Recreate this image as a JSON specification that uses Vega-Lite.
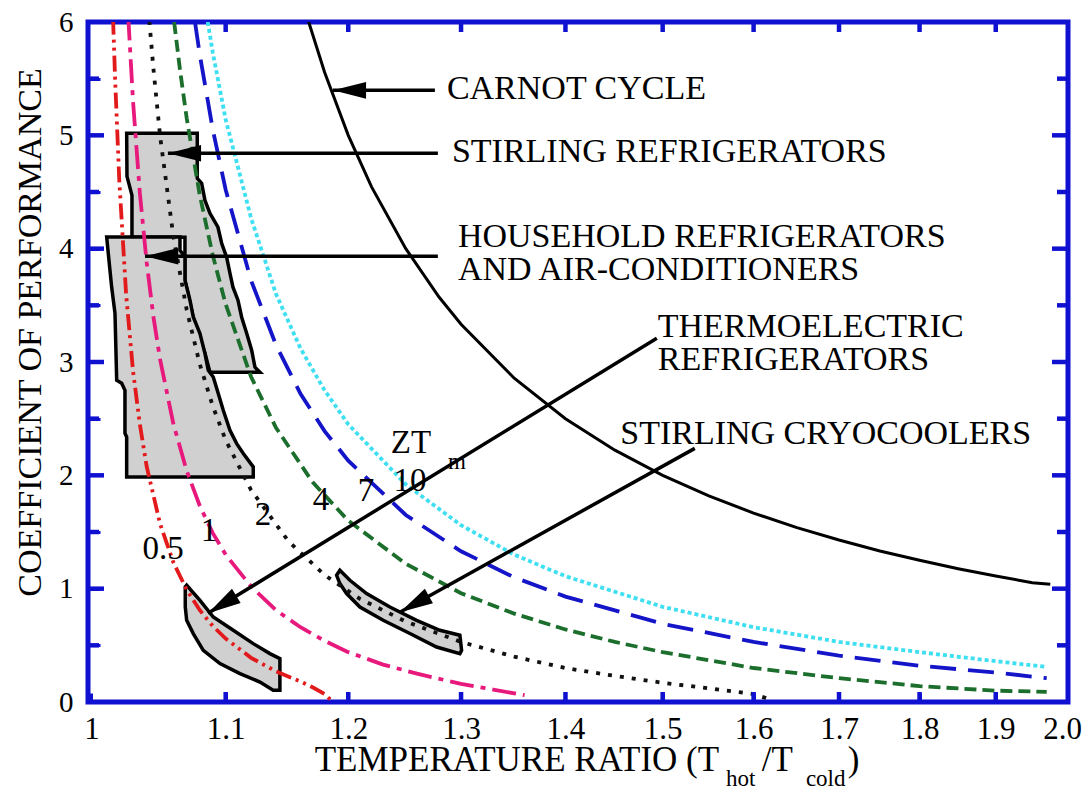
{
  "$schema": "https://vega.github.io/schema/vega-lite/v6.json",
  "width": 980,
  "height": 680,
  "autosize": {"type": "none"},
  "padding": {"left": 88, "top": 22, "right": 17, "bottom": 89},
  "background": "white",
  "config": {
    "font": "Liberation Serif",
    "view": {"stroke": "#1010d0", "strokeWidth": 5},
    "axis": {"labelFont": "Liberation Serif", "titleFont": "Liberation Serif"},
    "style": {"guide-label": {"font": "Liberation Serif"}, "guide-title": {"font": "Liberation Serif"}},
    "text": {"font": "Liberation Serif", "color": "black"}
  },
  "datasets": {
    "curves": [
      {"s": "Carnot", "r": 1.165, "c": 6.06}, {"s": "Carnot", "r": 1.18, "c": 5.556}, {"s": "Carnot", "r": 1.2, "c": 5.0}, {"s": "Carnot", "r": 1.22, "c": 4.545}, {"s": "Carnot", "r": 1.25, "c": 4.0}, {"s": "Carnot", "r": 1.28, "c": 3.571}, {"s": "Carnot", "r": 1.3, "c": 3.333}, {"s": "Carnot", "r": 1.35, "c": 2.857}, {"s": "Carnot", "r": 1.4, "c": 2.5}, {"s": "Carnot", "r": 1.45, "c": 2.222}, {"s": "Carnot", "r": 1.5, "c": 2.0}, {"s": "Carnot", "r": 1.55, "c": 1.818}, {"s": "Carnot", "r": 1.6, "c": 1.667}, {"s": "Carnot", "r": 1.65, "c": 1.538}, {"s": "Carnot", "r": 1.7, "c": 1.429}, {"s": "Carnot", "r": 1.75, "c": 1.333}, {"s": "Carnot", "r": 1.8, "c": 1.25}, {"s": "Carnot", "r": 1.85, "c": 1.176}, {"s": "Carnot", "r": 1.9, "c": 1.111}, {"s": "Carnot", "r": 1.95, "c": 1.053}, {"s": "Carnot", "r": 1.975, "c": 1.04},
      {"s": "0.5", "r": 1.0155, "c": 6.03}, {"s": "0.5", "r": 1.017, "c": 5.49}, {"s": "0.5", "r": 1.02, "c": 4.6}, {"s": "0.5", "r": 1.025, "c": 3.59}, {"s": "0.5", "r": 1.03, "c": 2.92}, {"s": "0.5", "r": 1.035, "c": 2.45}, {"s": "0.5", "r": 1.04, "c": 2.08}, {"s": "0.5", "r": 1.05, "c": 1.57}, {"s": "0.5", "r": 1.06, "c": 1.23}, {"s": "0.5", "r": 1.07, "c": 0.99}, {"s": "0.5", "r": 1.08, "c": 0.81}, {"s": "0.5", "r": 1.09, "c": 0.67}, {"s": "0.5", "r": 1.1, "c": 0.56}, {"s": "0.5", "r": 1.12, "c": 0.39}, {"s": "0.5", "r": 1.14, "c": 0.27}, {"s": "0.5", "r": 1.16, "c": 0.18}, {"s": "0.5", "r": 1.17, "c": 0.13}, {"s": "0.5", "r": 1.18, "c": 0.07}, {"s": "0.5", "r": 1.187, "c": 0.0},
      {"s": "1", "r": 1.0265, "c": 6.05}, {"s": "1", "r": 1.03, "c": 5.3}, {"s": "1", "r": 1.035, "c": 4.49}, {"s": "1", "r": 1.04, "c": 3.88}, {"s": "1", "r": 1.045, "c": 3.4}, {"s": "1", "r": 1.05, "c": 3.02}, {"s": "1", "r": 1.06, "c": 2.45}, {"s": "1", "r": 1.07, "c": 2.04}, {"s": "1", "r": 1.08, "c": 1.73}, {"s": "1", "r": 1.09, "c": 1.49}, {"s": "1", "r": 1.1, "c": 1.3}, {"s": "1", "r": 1.12, "c": 1.02}, {"s": "1", "r": 1.14, "c": 0.81}, {"s": "1", "r": 1.16, "c": 0.66}, {"s": "1", "r": 1.18, "c": 0.54}, {"s": "1", "r": 1.2, "c": 0.44}, {"s": "1", "r": 1.23, "c": 0.33}, {"s": "1", "r": 1.26, "c": 0.25}, {"s": "1", "r": 1.3, "c": 0.16}, {"s": "1", "r": 1.33, "c": 0.11}, {"s": "1", "r": 1.36, "c": 0.06},
      {"s": "2", "r": 1.042, "c": 6.01}, {"s": "2", "r": 1.045, "c": 5.59}, {"s": "2", "r": 1.05, "c": 4.99}, {"s": "2", "r": 1.06, "c": 4.1}, {"s": "2", "r": 1.07, "c": 3.46}, {"s": "2", "r": 1.08, "c": 2.98}, {"s": "2", "r": 1.09, "c": 2.61}, {"s": "2", "r": 1.1, "c": 2.31}, {"s": "2", "r": 1.12, "c": 1.87}, {"s": "2", "r": 1.15, "c": 1.42}, {"s": "2", "r": 1.18, "c": 1.12}, {"s": "2", "r": 1.21, "c": 0.91}, {"s": "2", "r": 1.25, "c": 0.71}, {"s": "2", "r": 1.3, "c": 0.53}, {"s": "2", "r": 1.35, "c": 0.4}, {"s": "2", "r": 1.4, "c": 0.3}, {"s": "2", "r": 1.45, "c": 0.23}, {"s": "2", "r": 1.5, "c": 0.17}, {"s": "2", "r": 1.55, "c": 0.12}, {"s": "2", "r": 1.6, "c": 0.07}, {"s": "2", "r": 1.616, "c": 0.03},
      {"s": "4", "r": 1.0605, "c": 6.0}, {"s": "4", "r": 1.065, "c": 5.57}, {"s": "4", "r": 1.07, "c": 5.15}, {"s": "4", "r": 1.08, "c": 4.47}, {"s": "4", "r": 1.09, "c": 3.94}, {"s": "4", "r": 1.1, "c": 3.51}, {"s": "4", "r": 1.12, "c": 2.87}, {"s": "4", "r": 1.14, "c": 2.42}, {"s": "4", "r": 1.17, "c": 1.94}, {"s": "4", "r": 1.2, "c": 1.6}, {"s": "4", "r": 1.25, "c": 1.22}, {"s": "4", "r": 1.3, "c": 0.96}, {"s": "4", "r": 1.35, "c": 0.78}, {"s": "4", "r": 1.4, "c": 0.64}, {"s": "4", "r": 1.45, "c": 0.53}, {"s": "4", "r": 1.5, "c": 0.44}, {"s": "4", "r": 1.6, "c": 0.3}, {"s": "4", "r": 1.7, "c": 0.21}, {"s": "4", "r": 1.8, "c": 0.14}, {"s": "4", "r": 1.9, "c": 0.1}, {"s": "4", "r": 1.97, "c": 0.09},
      {"s": "7", "r": 1.0763, "c": 6.0}, {"s": "7", "r": 1.08, "c": 5.71}, {"s": "7", "r": 1.09, "c": 5.05}, {"s": "7", "r": 1.1, "c": 4.52}, {"s": "7", "r": 1.12, "c": 3.72}, {"s": "7", "r": 1.14, "c": 3.15}, {"s": "7", "r": 1.16, "c": 2.72}, {"s": "7", "r": 1.18, "c": 2.39}, {"s": "7", "r": 1.2, "c": 2.13}, {"s": "7", "r": 1.25, "c": 1.65}, {"s": "7", "r": 1.3, "c": 1.33}, {"s": "7", "r": 1.35, "c": 1.1}, {"s": "7", "r": 1.4, "c": 0.93}, {"s": "7", "r": 1.5, "c": 0.69}, {"s": "7", "r": 1.6, "c": 0.53}, {"s": "7", "r": 1.7, "c": 0.41}, {"s": "7", "r": 1.8, "c": 0.32}, {"s": "7", "r": 1.9, "c": 0.26}, {"s": "7", "r": 1.97, "c": 0.21},
      {"s": "10", "r": 1.0861, "c": 6.0}, {"s": "10", "r": 1.09, "c": 5.73}, {"s": "10", "r": 1.1, "c": 5.14}, {"s": "10", "r": 1.12, "c": 4.27}, {"s": "10", "r": 1.14, "c": 3.6}, {"s": "10", "r": 1.16, "c": 3.12}, {"s": "10", "r": 1.18, "c": 2.75}, {"s": "10", "r": 1.2, "c": 2.45}, {"s": "10", "r": 1.25, "c": 1.92}, {"s": "10", "r": 1.3, "c": 1.56}, {"s": "10", "r": 1.35, "c": 1.3}, {"s": "10", "r": 1.4, "c": 1.11}, {"s": "10", "r": 1.5, "c": 0.84}, {"s": "10", "r": 1.6, "c": 0.66}, {"s": "10", "r": 1.7, "c": 0.53}, {"s": "10", "r": 1.8, "c": 0.44}, {"s": "10", "r": 1.9, "c": 0.36}, {"s": "10", "r": 1.97, "c": 0.31}
    ],
    "regions": [
      {"id": "st", "i": 1, "x": 1.02536, "y": 5.018}, {"id": "st", "i": 2, "x": 1.07804, "y": 5.018}, {"id": "st", "i": 3, "x": 1.07804, "y": 4.621}, {"id": "st", "i": 4, "x": 1.08141, "y": 4.577}, {"id": "st", "i": 5, "x": 1.08394, "y": 4.427}, {"id": "st", "i": 6, "x": 1.0878, "y": 4.312}, {"id": "st", "i": 7, "x": 1.09399, "y": 4.189}, {"id": "st", "i": 8, "x": 1.09687, "y": 4.048}, {"id": "st", "i": 9, "x": 1.10077, "y": 3.924}, {"id": "st", "i": 10, "x": 1.10335, "y": 3.783}, {"id": "st", "i": 11, "x": 1.10571, "y": 3.66}, {"id": "st", "i": 12, "x": 1.10964, "y": 3.545}, {"id": "st", "i": 13, "x": 1.11256, "y": 3.395}, {"id": "st", "i": 14, "x": 1.11651, "y": 3.254}, {"id": "st", "i": 15, "x": 1.12048, "y": 3.104}, {"id": "st", "i": 16, "x": 1.1231, "y": 2.954}, {"id": "st", "i": 17, "x": 1.12709, "y": 2.91}, {"id": "st", "i": 18, "x": 1.0878, "y": 2.91}, {"id": "st", "i": 19, "x": 1.08394, "y": 3.077}, {"id": "st", "i": 20, "x": 1.07498, "y": 3.394}, {"id": "st", "i": 21, "x": 1.06867, "y": 3.721}, {"id": "st", "i": 22, "x": 1.06867, "y": 4.1}, {"id": "st", "i": 23, "x": 1.02922, "y": 4.1}, {"id": "st", "i": 24, "x": 1.02922, "y": 4.47}, {"id": "st", "i": 25, "x": 1.02558, "y": 4.638},
      {"id": "hh", "i": 1, "x": 1.01091, "y": 4.103}, {"id": "hh", "i": 2, "x": 1.06489, "y": 4.103}, {"id": "hh", "i": 3, "x": 1.06489, "y": 3.986}, {"id": "hh", "i": 4, "x": 1.06867, "y": 3.927}, {"id": "hh", "i": 5, "x": 1.06867, "y": 3.721}, {"id": "hh", "i": 6, "x": 1.07247, "y": 3.545}, {"id": "hh", "i": 7, "x": 1.07498, "y": 3.397}, {"id": "hh", "i": 8, "x": 1.08011, "y": 3.251}, {"id": "hh", "i": 9, "x": 1.08394, "y": 3.074}, {"id": "hh", "i": 10, "x": 1.08648, "y": 2.927}, {"id": "hh", "i": 11, "x": 1.09035, "y": 2.868}, {"id": "hh", "i": 12, "x": 1.09422, "y": 2.721}, {"id": "hh", "i": 13, "x": 1.09812, "y": 2.574}, {"id": "hh", "i": 14, "x": 1.10335, "y": 2.397}, {"id": "hh", "i": 15, "x": 1.10863, "y": 2.28}, {"id": "hh", "i": 16, "x": 1.11383, "y": 2.192}, {"id": "hh", "i": 17, "x": 1.12175, "y": 2.074}, {"id": "hh", "i": 18, "x": 1.12175, "y": 1.985}, {"id": "hh", "i": 19, "x": 1.02536, "y": 1.985}, {"id": "hh", "i": 20, "x": 1.02536, "y": 2.338}, {"id": "hh", "i": 21, "x": 1.02412, "y": 2.371}, {"id": "hh", "i": 22, "x": 1.02412, "y": 2.75}, {"id": "hh", "i": 23, "x": 1.02173, "y": 2.812}, {"id": "hh", "i": 24, "x": 1.01812, "y": 2.839}, {"id": "hh", "i": 25, "x": 1.01689, "y": 3.43}, {"id": "hh", "i": 26, "x": 1.01451, "y": 3.659}, {"id": "hh", "i": 27, "x": 1.01206, "y": 3.959},
      {"id": "te", "i": 1, "x": 1.06996, "y": 1.03}, {"id": "te", "i": 2, "x": 1.08011, "y": 0.897}, {"id": "te", "i": 3, "x": 1.09035, "y": 0.75}, {"id": "te", "i": 4, "x": 1.10595, "y": 0.633}, {"id": "te", "i": 5, "x": 1.12175, "y": 0.515}, {"id": "te", "i": 6, "x": 1.13508, "y": 0.427}, {"id": "te", "i": 7, "x": 1.14316, "y": 0.383}, {"id": "te", "i": 8, "x": 1.14316, "y": 0.103}, {"id": "te", "i": 9, "x": 1.13774, "y": 0.103}, {"id": "te", "i": 10, "x": 1.12709, "y": 0.176}, {"id": "te", "i": 11, "x": 1.11122, "y": 0.251}, {"id": "te", "i": 12, "x": 1.09556, "y": 0.339}, {"id": "te", "i": 13, "x": 1.08264, "y": 0.456}, {"id": "te", "i": 14, "x": 1.07498, "y": 0.604}, {"id": "te", "i": 15, "x": 1.06996, "y": 0.721}, {"id": "te", "i": 16, "x": 1.0689, "y": 0.838}, {"id": "te", "i": 17, "x": 1.0689, "y": 1.015},
      {"id": "cc", "i": 1, "x": 1.19289, "y": 1.162}, {"id": "cc", "i": 2, "x": 1.20138, "y": 1.074}, {"id": "cc", "i": 3, "x": 1.2157, "y": 0.957}, {"id": "cc", "i": 4, "x": 1.23597, "y": 0.838}, {"id": "cc", "i": 5, "x": 1.25963, "y": 0.721}, {"id": "cc", "i": 6, "x": 1.28063, "y": 0.633}, {"id": "cc", "i": 7, "x": 1.29893, "y": 0.589}, {"id": "cc", "i": 8, "x": 1.3005, "y": 0.456}, {"id": "cc", "i": 9, "x": 1.29893, "y": 0.427}, {"id": "cc", "i": 10, "x": 1.27763, "y": 0.485}, {"id": "cc", "i": 11, "x": 1.25366, "y": 0.604}, {"id": "cc", "i": 12, "x": 1.2301, "y": 0.721}, {"id": "cc", "i": 13, "x": 1.20996, "y": 0.838}, {"id": "cc", "i": 14, "x": 1.19857, "y": 0.957}, {"id": "cc", "i": 15, "x": 1.19289, "y": 1.045}, {"id": "cc", "i": 16, "x": 1.1901, "y": 1.118}
    ],
    "arrows": [
      {"a": "carnot", "x": 1.2761, "y": 5.397, "x2": 1.187, "y2": 5.397},
      {"a": "stirling", "x": 1.2788, "y": 4.842, "x2": 1.0558, "y2": 4.842},
      {"a": "household", "x": 1.2788, "y": 3.933, "x2": 1.0388, "y2": 3.933},
      {"a": "thermo", "x": 1.4938, "y": 3.209, "x2": 1.0863, "y2": 0.783},
      {"a": "cryo", "x": 1.5346, "y": 2.238, "x2": 1.2448, "y2": 0.792}
    ],
    "notes": [
      {"t": "CARNOT CYCLE", "x": 1.287, "y": 5.406},
      {"t": "STIRLING REFRIGERATORS", "x": 1.2916, "y": 4.851},
      {"t": "HOUSEHOLD REFRIGERATORS", "x": 1.2971, "y": 4.103},
      {"t": "AND AIR-CONDITIONERS", "x": 1.2971, "y": 3.812},
      {"t": "THERMOELECTRIC", "x": 1.4948, "y": 3.306},
      {"t": "REFRIGERATORS", "x": 1.4948, "y": 3.015},
      {"t": "STIRLING CRYOCOOLERS", "x": 1.4555, "y": 2.362}
    ],
    "curvelabels": [
      {"t": "0.5", "x": 1.05224, "y": 1.346},
      {"t": "1", "x": 1.08701, "y": 1.506},
      {"t": "2", "x": 1.12948, "y": 1.647},
      {"t": "4", "x": 1.17694, "y": 1.78},
      {"t": "7", "x": 1.2151, "y": 1.859},
      {"t": "10", "x": 1.25366, "y": 1.948},
      {"t": "ZT", "x": 1.25455, "y": 2.283}
    ],
    "subs": [
      {"t": "m", "x": 1.288, "y": 2.115},
      {"t": "hot", "x": 1.5691, "y": -0.682},
      {"t": "cold", "x": 1.6605, "y": -0.682}
    ],
    "titleleft": [
      {"t": "/T", "x": 1.6092, "y": -0.514},
      {"t": ")", "x": 1.7106, "y": -0.514}
    ],
    "titleright": [
      {"t": "TEMPERATURE RATIO (T", "x": 1.5613, "y": -0.514}
    ],
    "yticks": [
      {"v": 0.5, "k": "minor"}, {"v": 1, "k": "major"}, {"v": 1.5, "k": "minor"}, {"v": 2, "k": "major"}, {"v": 2.5, "k": "minor"}, {"v": 3, "k": "major"},
      {"v": 3.5, "k": "minor"}, {"v": 4, "k": "major"}, {"v": 4.5, "k": "minor"}, {"v": 5, "k": "major"}, {"v": 5.5, "k": "minor"}
    ],
    "xticks": [
      {"v": 1.1}, {"v": 1.2}, {"v": 1.3}, {"v": 1.4}, {"v": 1.5}, {"v": 1.6}, {"v": 1.7}, {"v": 1.8}, {"v": 1.9}
    ]
  },
  "layer": [
    {
      "data": {"name": "regions"},
      "transform": [{"filter": "datum.id === 'st'"}],
      "mark": {"type": "line", "interpolate": "linear-closed", "fill": "#d0d0d0", "stroke": "black", "strokeWidth": 3.5, "strokeJoin": "miter"},
      "encoding": {
        "x": {"field": "x", "type": "quantitative", "scale": {"type": "log", "domain": [0.9976, 2.0], "nice": false}, "axis": null},
        "y": {"field": "y", "type": "quantitative", "scale": {"domain": [0, 6], "nice": false, "zero": false}, "axis": null},
        "order": {"field": "i", "type": "quantitative"}
      }
    },
    {
      "data": {"name": "regions"},
      "transform": [{"filter": "datum.id !== 'st'"}],
      "mark": {"type": "line", "interpolate": "linear-closed", "fill": "#d0d0d0", "stroke": "black", "strokeWidth": 3.5, "strokeJoin": "miter"},
      "encoding": {
        "x": {"field": "x", "type": "quantitative", "scale": {"type": "log", "domain": [0.9976, 2.0], "nice": false}, "axis": null},
        "y": {"field": "y", "type": "quantitative", "scale": {"domain": [0, 6], "nice": false, "zero": false}, "axis": null},
        "detail": {"field": "id", "type": "nominal"},
        "order": {"field": "i", "type": "quantitative"}
      }
    },
    {
      "data": {"name": "curves"},
      "transform": [{"filter": "datum.s === 'Carnot'"}],
      "mark": {"type": "line", "clip": true, "color": "black", "strokeWidth": 3},
      "encoding": {
        "x": {"field": "r", "type": "quantitative", "scale": {"type": "log", "domain": [0.9976, 2.0], "nice": false},
              "axis": {"orient": "bottom", "values": [1, 1.1, 1.2, 1.3, 1.4, 1.5, 1.6, 1.7, 1.8, 1.9, 2.0], "labelExpr": "datum.value == 1 ? '1' : format(datum.value, '.1f')", "ticks": true, "domain": false, "grid": false, "offset": -9, "tickSize": 9, "tickWidth": 3, "tickColor": "#1010d0", "labelFont": "Liberation Serif", "labelFontSize": 31, "labelColor": "black", "labelPadding": 12, "labelFlush": false, "labelOverlap": false, "labelOffset": {"condition": {"test": "datum.value >= 1.99", "value": -6}, "value": 0}, "title": null}},
        "y": {"field": "c", "type": "quantitative", "scale": {"domain": [0, 6], "nice": false, "zero": false},
              "axis": {"orient": "left", "values": [0, 0.5, 1, 1.5, 2, 2.5, 3, 3.5, 4, 4.5, 5, 5.5, 6], "labelExpr": "datum.value % 1 === 0 ? format(datum.value, 'd') : ''", "ticks": true, "domain": false, "grid": false, "offset": -12, "tickSize": 12, "tickWidth": 3, "tickColor": "#1010d0", "labelFont": "Liberation Serif", "labelFontSize": 29, "labelColor": "black", "labelPadding": 15, "labelOverlap": false, "labelBaseline": "middle",
                       "title": "COEFFICIENT OF PERFORMANCE", "titleFont": "Liberation Serif", "titleFontSize": 34, "titleFontWeight": "normal", "titleColor": "black", "titleX": -70, "titleY": 310, "titleAlign": "center", "titleBaseline": "middle", "titleAngle": 270}}
      }
    },
    {
      "data": {"name": "curves"},
      "transform": [{"filter": "datum.s !== 'Carnot'"}],
      "mark": {"type": "line", "clip": true, "strokeWidth": 3.8},
      "encoding": {
        "x": {"field": "r", "type": "quantitative", "scale": {"type": "log", "domain": [0.9976, 2.0], "nice": false}, "axis": null},
        "y": {"field": "c", "type": "quantitative", "scale": {"domain": [0, 6], "nice": false, "zero": false}, "axis": null},
        "color": {"field": "s", "type": "nominal", "legend": null,
                  "scale": {"domain": ["0.5", "1", "2", "4", "7", "10"], "range": ["#e31a1c", "#e8197d", "#111111", "#1b6e2b", "#1414c8", "#3fdff2"]}},
        "strokeDash": {"field": "s", "type": "nominal", "legend": null,
                       "scale": {"domain": ["0.5", "1", "2", "4", "7", "10"], "range": [[16, 5, 3, 5, 3, 5], [24, 7, 5, 7], [4, 8], [12, 6], [26, 12], [4, 3]]}}
      }
    },
    {
      "data": {"name": "yticks"},
      "transform": [{"filter": "datum.k === 'major'"}],
      "mark": {"type": "tick", "orient": "horizontal", "clip": true, "color": "#1010d0", "thickness": 4.5, "size": 32, "opacity": 1},
      "encoding": {
        "y": {"field": "v", "type": "quantitative", "scale": {"domain": [0, 6], "nice": false, "zero": false}, "axis": null},
        "x": {"datum": 0.9976, "type": "quantitative", "scale": {"type": "log", "domain": [0.9976, 2.0], "nice": false}, "axis": null}
      }
    },
    {
      "data": {"name": "yticks"},
      "transform": [{"filter": "datum.k === 'minor'"}],
      "mark": {"type": "tick", "orient": "horizontal", "clip": true, "color": "#1010d0", "thickness": 4.5, "size": 22, "opacity": 1},
      "encoding": {
        "y": {"field": "v", "type": "quantitative", "scale": {"domain": [0, 6], "nice": false, "zero": false}, "axis": null},
        "x": {"datum": 0.9976, "type": "quantitative", "scale": {"type": "log", "domain": [0.9976, 2.0], "nice": false}, "axis": null}
      }
    },
    {
      "data": {"name": "yticks"},
      "transform": [{"filter": "datum.k === 'major'"}],
      "mark": {"type": "tick", "orient": "horizontal", "clip": true, "color": "#1010d0", "thickness": 4.5, "size": 32, "opacity": 1},
      "encoding": {
        "y": {"field": "v", "type": "quantitative", "scale": {"domain": [0, 6], "nice": false, "zero": false}, "axis": null},
        "x": {"datum": 2.0, "type": "quantitative", "scale": {"type": "log", "domain": [0.9976, 2.0], "nice": false}, "axis": null}
      }
    },
    {
      "data": {"name": "yticks"},
      "transform": [{"filter": "datum.k === 'minor'"}],
      "mark": {"type": "tick", "orient": "horizontal", "clip": true, "color": "#1010d0", "thickness": 4.5, "size": 22, "opacity": 1},
      "encoding": {
        "y": {"field": "v", "type": "quantitative", "scale": {"domain": [0, 6], "nice": false, "zero": false}, "axis": null},
        "x": {"datum": 2.0, "type": "quantitative", "scale": {"type": "log", "domain": [0.9976, 2.0], "nice": false}, "axis": null}
      }
    },
    {
      "data": {"name": "xticks"},
      "mark": {"type": "tick", "orient": "vertical", "clip": true, "color": "#1010d0", "thickness": 4.5, "size": 20, "opacity": 1},
      "encoding": {
        "x": {"field": "v", "type": "quantitative", "scale": {"type": "log", "domain": [0.9976, 2.0], "nice": false}, "axis": null},
        "y": {"datum": 0, "type": "quantitative", "scale": {"domain": [0, 6], "nice": false, "zero": false}, "axis": null}
      }
    },
    {
      "data": {"name": "xticks"},
      "mark": {"type": "tick", "orient": "vertical", "clip": true, "color": "#1010d0", "thickness": 4.5, "size": 20, "opacity": 1},
      "encoding": {
        "x": {"field": "v", "type": "quantitative", "scale": {"type": "log", "domain": [0.9976, 2.0], "nice": false}, "axis": null},
        "y": {"datum": 6, "type": "quantitative", "scale": {"domain": [0, 6], "nice": false, "zero": false}, "axis": null}
      }
    },
    {
      "data": {"name": "arrows"},
      "mark": {"type": "rule", "color": "black", "strokeWidth": 3.5},
      "encoding": {
        "x": {"field": "x", "type": "quantitative", "scale": {"type": "log", "domain": [0.9976, 2.0], "nice": false}, "axis": null},
        "y": {"field": "y", "type": "quantitative", "scale": {"domain": [0, 6], "nice": false, "zero": false}, "axis": null},
        "x2": {"field": "x2"},
        "y2": {"field": "y2"}
      }
    },
    {
      "data": {"name": "arrows"},
      "mark": {"type": "point", "filled": true, "color": "black", "opacity": 1, "size": 1100, "shape": "M0,0L0.5,2L-0.5,2Z"},
      "encoding": {
        "x": {"field": "x2", "type": "quantitative", "scale": {"type": "log", "domain": [0.9976, 2.0], "nice": false}, "axis": null},
        "y": {"field": "y2", "type": "quantitative", "scale": {"domain": [0, 6], "nice": false, "zero": false}, "axis": null},
        "angle": {"field": "a", "type": "nominal", "legend": null,
                  "scale": {"type": "ordinal", "domain": ["carnot", "stirling", "household", "thermo", "cryo"], "range": [270, 270, 270, 238.5, 240.9]}}
      }
    },
    {
      "data": {"name": "notes"},
      "mark": {"type": "text", "align": "left", "baseline": "middle", "fontSize": 34, "font": "Liberation Serif"},
      "encoding": {
        "x": {"field": "x", "type": "quantitative", "scale": {"type": "log", "domain": [0.9976, 2.0], "nice": false}, "axis": null},
        "y": {"field": "y", "type": "quantitative", "scale": {"domain": [0, 6], "nice": false, "zero": false}, "axis": null},
        "text": {"field": "t"}
      }
    },
    {
      "data": {"name": "curvelabels"},
      "mark": {"type": "text", "align": "center", "baseline": "middle", "fontSize": 33, "font": "Liberation Serif"},
      "encoding": {
        "x": {"field": "x", "type": "quantitative", "scale": {"type": "log", "domain": [0.9976, 2.0], "nice": false}, "axis": null},
        "y": {"field": "y", "type": "quantitative", "scale": {"domain": [0, 6], "nice": false, "zero": false}, "axis": null},
        "text": {"field": "t"}
      }
    },
    {
      "data": {"name": "subs"},
      "mark": {"type": "text", "align": "left", "baseline": "middle", "fontSize": 23, "font": "Liberation Serif"},
      "encoding": {
        "x": {"field": "x", "type": "quantitative", "scale": {"type": "log", "domain": [0.9976, 2.0], "nice": false}, "axis": null},
        "y": {"field": "y", "type": "quantitative", "scale": {"domain": [0, 6], "nice": false, "zero": false}, "axis": null},
        "text": {"field": "t"}
      }
    },
    {
      "data": {"name": "titleleft"},
      "mark": {"type": "text", "align": "left", "baseline": "middle", "fontSize": 35, "font": "Liberation Serif"},
      "encoding": {
        "x": {"field": "x", "type": "quantitative", "scale": {"type": "log", "domain": [0.9976, 2.0], "nice": false}, "axis": null},
        "y": {"field": "y", "type": "quantitative", "scale": {"domain": [0, 6], "nice": false, "zero": false}, "axis": null},
        "text": {"field": "t"}
      }
    },
    {
      "data": {"name": "titleright"},
      "mark": {"type": "text", "align": "right", "baseline": "middle", "fontSize": 35, "font": "Liberation Serif"},
      "encoding": {
        "x": {"field": "x", "type": "quantitative", "scale": {"type": "log", "domain": [0.9976, 2.0], "nice": false}, "axis": null},
        "y": {"field": "y", "type": "quantitative", "scale": {"domain": [0, 6], "nice": false, "zero": false}, "axis": null},
        "text": {"field": "t"}
      }
    }
  ],
  "resolve": {"axis": {"x": "independent", "y": "independent"}}
}
